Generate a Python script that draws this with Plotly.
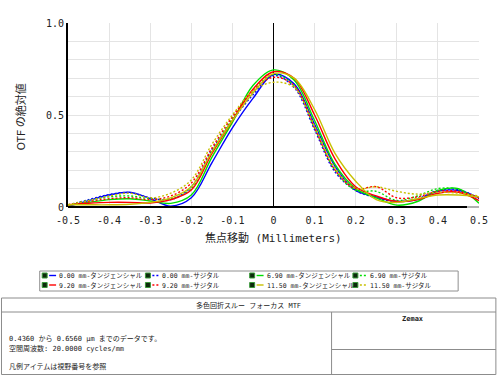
import plotly.graph_objects as go

# ---------------- data ----------------
focus_shift = [-0.5, -0.45, -0.4, -0.35, -0.3, -0.25, -0.2, -0.15, -0.1, -0.05, 0.0,
               0.05, 0.1, 0.15, 0.2, 0.25, 0.3, 0.35, 0.4, 0.45, 0.5]

field_labels = ["0.00", "6.90", "9.20", "11.50"]

t_000 = [0.003, 0.035, 0.065, 0.080, 0.045, 0.005, 0.050, 0.240, 0.430, 0.590, 0.720,
         0.670, 0.450, 0.220, 0.090, 0.055, 0.030, 0.040, 0.085, 0.090, 0.050]
s_000 = [0.010, 0.040, 0.068, 0.078, 0.050, 0.040, 0.110, 0.310, 0.470, 0.610, 0.715,
         0.650, 0.420, 0.190, 0.090, 0.050, 0.030, 0.045, 0.090, 0.095, 0.045]
t_690 = [0.010, 0.025, 0.040, 0.045, 0.033, 0.020, 0.065, 0.270, 0.460, 0.660, 0.745,
         0.690, 0.470, 0.230, 0.100, 0.050, 0.010, 0.030, 0.090, 0.100, 0.020]
s_690 = [0.012, 0.035, 0.055, 0.060, 0.045, 0.045, 0.100, 0.300, 0.480, 0.630, 0.720,
         0.660, 0.430, 0.200, 0.090, 0.085, 0.035, 0.060, 0.100, 0.095, 0.030]
t_920 = [0.012, 0.020, 0.025, 0.025, 0.022, 0.040, 0.092, 0.290, 0.470, 0.640, 0.735,
         0.700, 0.500, 0.260, 0.110, 0.060, 0.030, 0.040, 0.075, 0.080, 0.035]
s_920 = [0.012, 0.030, 0.045, 0.050, 0.040, 0.060, 0.130, 0.320, 0.490, 0.630, 0.705,
         0.660, 0.430, 0.200, 0.100, 0.110, 0.050, 0.055, 0.085, 0.085, 0.050]
t_1150 = [0.012, 0.012, 0.012, 0.015, 0.025, 0.050, 0.110, 0.300, 0.470, 0.620, 0.725,
          0.700, 0.530, 0.290, 0.140, 0.040, 0.025, 0.045, 0.065, 0.065, 0.055]
s_1150 = [0.012, 0.035, 0.060, 0.075, 0.050, 0.075, 0.147, 0.340, 0.500, 0.630, 0.678,
          0.650, 0.440, 0.210, 0.100, 0.110, 0.085, 0.070, 0.080, 0.075, 0.060]

x_ticks = [-0.5, -0.4, -0.3, -0.2, -0.1, 0.0, 0.1, 0.2, 0.3, 0.4, 0.5]
x_ticktext = ["-0.5", "-0.4", "-0.3", "-0.2", "-0.1", "0", "0.1", "0.2", "0.3", "0.4", "0.5"]
y_ticks = [0.0, 0.1, 0.2, 0.3, 0.4, 0.5, 0.6, 0.7, 0.8, 0.9, 1.0]
y_ticktext = ["0", "", "", "", "", "0.5", "", "", "", "", "1.0"]

DOT = "2px,2px"
series = [
    (t_000, "#0000ff", "solid", field_labels[0] + " mm-タンジェンシャル"),
    (s_000, "#0000ff", DOT, field_labels[0] + " mm-サジタル"),
    (t_690, "#00e000", "solid", field_labels[1] + " mm-タンジェンシャル"),
    (s_690, "#00e000", DOT, field_labels[1] + " mm-サジタル"),
    (t_920, "#ff0000", "solid", field_labels[2] + " mm-タンジェンシャル"),
    (s_920, "#ff0000", DOT, field_labels[2] + " mm-サジタル"),
    (t_1150, "#c8c000", "solid", field_labels[3] + " mm-タンジェンシャル"),
    (s_1150, "#c8c000", DOT, field_labels[3] + " mm-サジタル"),
]

# ---------------- layout helpers (pixel -> paper) ----------------
L, R, T, B = 68, 482, 23, 207
W, H = 500, 375


def px(x):
    return (x - L) / (R - L)


def py(y):
    return (B - y) / (B - T)


MONO = "DejaVu Sans Mono, Noto Sans CJK JP"
CJK = "Noto Sans CJK JP, DejaVu Sans"

fig = go.Figure()
for vals, col, dash, name in series:
    fig.add_trace(go.Scatter(x=focus_shift, y=vals, mode="lines", name=name,
                             line=dict(color=col, width=1.4, dash=dash, shape="spline", smoothing=1.0),
                             showlegend=False))

shapes = []
annotations = []

# bottom axis line (black, grey tail)
shapes.append(dict(type="line", xref="paper", yref="paper", x0=0, x1=px(470), y0=0, y1=0,
                   line=dict(color="black", width=2)))
shapes.append(dict(type="line", xref="paper", yref="paper", x0=px(470), x1=1, y0=0, y1=0,
                   line=dict(color="#b0b0b0", width=2)))

# axis titles
annotations.append(dict(text="焦点移動 (Millimeters)", xref="paper", yref="paper",
                        x=px(275), y=py(238), showarrow=False, xanchor="center", yanchor="middle",
                        font=dict(family=MONO, size=11, color="#222")))
annotations.append(dict(text="OTF の絶対値", xref="paper", yref="paper",
                        x=px(20), y=py(117), showarrow=False, textangle=-90,
                        xanchor="center", yanchor="middle",
                        font=dict(family=CJK, size=11, color="#222")))

# legend box
shapes.append(dict(type="rect", xref="paper", yref="paper", x0=px(39.5), x1=px(461),
                   y0=py(271), y1=py(291), line=dict(color="#909090", width=1), fillcolor="white"))
col_x = [42, 146, 251, 355]
row_y = [275.5, 285]
for i, (vals, col, dash, name) in enumerate(series):
    field = i // 2
    r = 0 if field in (0, 1) else 1
    c = (i % 2) + (2 if field in (1, 3) else 0)
    x0 = col_x[c]
    y0 = row_y[r]
    shapes.append(dict(type="rect", xref="paper", yref="paper", x0=px(x0), x1=px(x0 + 5),
                       y0=py(y0 - 2.5), y1=py(y0 + 2.5), line=dict(color="#3a9a3a", width=1),
                       fillcolor="#0c2a0c"))
    shapes.append(dict(type="line", xref="paper", yref="paper", x0=px(x0 + 7), x1=px(x0 + 14),
                       y0=py(y0), y1=py(y0), line=dict(color=col, width=1.4, dash=dash)))
    annotations.append(dict(text=name, xref="paper", yref="paper", x=px(x0 + 15), y=py(y0),
                            showarrow=False, xanchor="left", yanchor="middle",
                            font=dict(family=MONO, size=6.5, color="#222")))

# bottom info table
tcol = "#8c8c8c"
shapes.append(dict(type="rect", xref="paper", yref="paper", x0=px(1), x1=px(499),
                   y0=py(298), y1=py(374.5), line=dict(color=tcol, width=1)))
shapes.append(dict(type="line", xref="paper", yref="paper", x0=px(1), x1=px(499),
                   y0=py(312), y1=py(312), line=dict(color=tcol, width=1)))
shapes.append(dict(type="line", xref="paper", yref="paper", x0=px(333.5), x1=px(333.5),
                   y0=py(312), y1=py(374.5), line=dict(color=tcol, width=1)))
shapes.append(dict(type="line", xref="paper", yref="paper", x0=px(333.5), x1=px(499),
                   y0=py(349.5), y1=py(349.5), line=dict(color=tcol, width=1)))

annotations.append(dict(text="多色回折スルー フォーカス MTF", xref="paper", yref="paper",
                        x=px(250), y=py(305.5), showarrow=False, xanchor="center", yanchor="middle",
                        font=dict(family=MONO, size=7, color="#222")))
annotations.append(dict(text="<b>Zemax</b>", xref="paper", yref="paper",
                        x=px(416), y=py(319), showarrow=False, xanchor="center", yanchor="middle",
                        font=dict(family=MONO, size=7, color="#222")))
info_lines = [("0.4360 から 0.6560 μm までのデータです。", 338.5),
              ("空間周波数: 20.0000 cycles/mm", 348),
              ("凡例アイテムは視野番号を参照", 366)]
for txt, yy in info_lines:
    annotations.append(dict(text=txt, xref="paper", yref="paper", x=px(7), y=py(yy),
                            showarrow=False, xanchor="left", yanchor="middle",
                            font=dict(family=MONO, size=7, color="#222")))

fig.update_layout(
    width=W, height=H, autosize=False,
    margin=dict(l=L, r=W - R, t=T, b=H - B, pad=0),
    paper_bgcolor="white", plot_bgcolor="white",
    showlegend=False,
    xaxis=dict(range=[-0.5, 0.5], tickvals=x_ticks, ticktext=x_ticktext,
               showgrid=True, gridcolor="#e4e4e4", gridwidth=1,
               zeroline=True, zerolinecolor="black", zerolinewidth=1,
               showline=False, ticks="outside", ticklen=4, tickcolor="rgba(0,0,0,0)",
               tickfont=dict(family=MONO, size=10, color="#222")),
    yaxis=dict(range=[0, 1.0], tickvals=y_ticks, ticktext=y_ticktext,
               showgrid=True, gridcolor="#e4e4e4", gridwidth=1,
               zeroline=False, showline=True, linecolor="black", linewidth=2,
               ticks="", tickfont=dict(family=MONO, size=10, color="#222")),
    shapes=shapes, annotations=annotations,
)

fig.write_html("out.html", config={"displayModeBar": False},
               post_script="document.body.style.margin='0';document.body.style.overflow='hidden';")
